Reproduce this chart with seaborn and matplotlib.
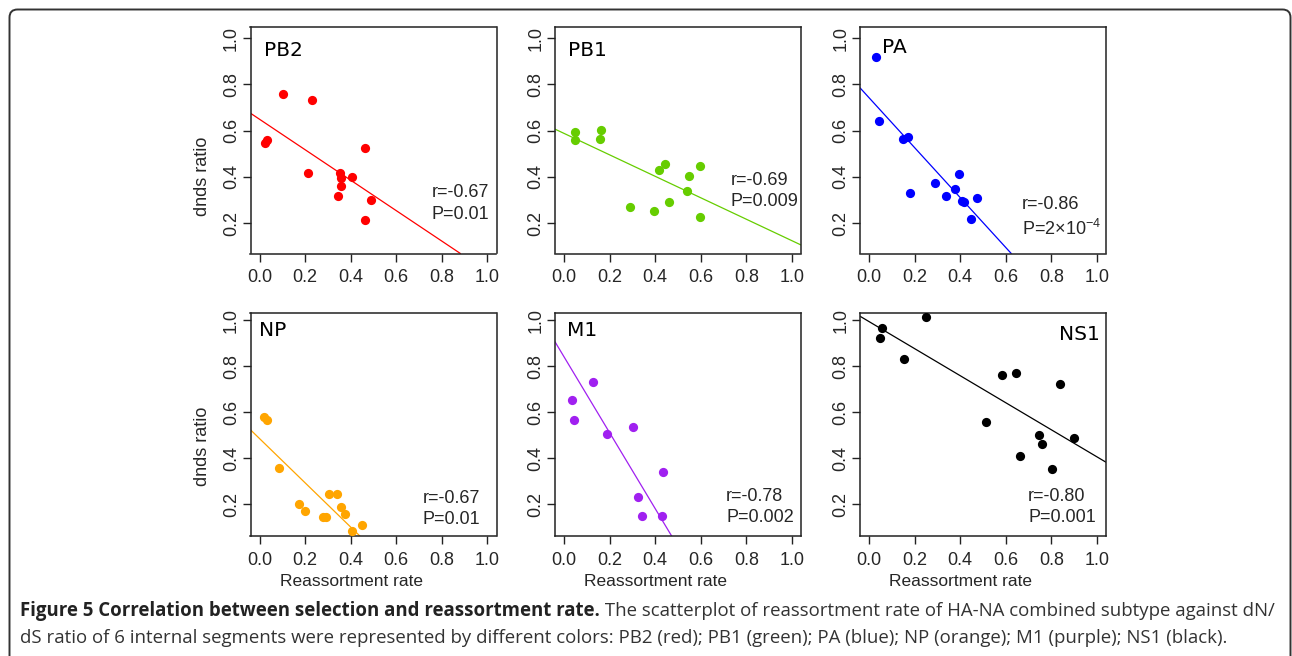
import numpy as np
import pandas as pd
import matplotlib
matplotlib.use("Agg")
import matplotlib.pyplot as plt
import matplotlib.transforms as mtransforms
from matplotlib.patches import FancyBboxPatch
import seaborn as sns

# ---------------- data ----------------
segments = ["PB2", "PB1", "PA", "NP", "M1", "NS1"]
seg_colors = ["#FF0000", "#66CD00", "#0000FF", "#FFA500", "#A020F0", "#000000"]

pb2_x = [0.025, 0.034, 0.104, 0.229, 0.214, 0.352, 0.357, 0.404, 0.358, 0.345, 0.461, 0.488, 0.463]
pb2_y = [0.546, 0.561, 0.757, 0.734, 0.418, 0.418, 0.396, 0.399, 0.360, 0.316, 0.527, 0.302, 0.212]

pb1_x = [0.048, 0.048, 0.157, 0.164, 0.289, 0.396, 0.416, 0.443, 0.462, 0.541, 0.547, 0.598, 0.598]
pb1_y = [0.593, 0.559, 0.564, 0.603, 0.271, 0.251, 0.430, 0.455, 0.291, 0.339, 0.404, 0.449, 0.226]

pa_x = [0.032, 0.044, 0.147, 0.169, 0.179, 0.291, 0.337, 0.376, 0.396, 0.406, 0.418, 0.474, 0.447]
pa_y = [0.917, 0.642, 0.565, 0.572, 0.329, 0.372, 0.316, 0.348, 0.412, 0.296, 0.290, 0.309, 0.220]

np_x = [0.019, 0.033, 0.083, 0.175, 0.201, 0.278, 0.291, 0.305, 0.339, 0.358, 0.376, 0.404, 0.450]
np_y = [0.578, 0.564, 0.359, 0.203, 0.169, 0.143, 0.143, 0.244, 0.244, 0.188, 0.158, 0.082, 0.111]

m1_x = [0.036, 0.042, 0.128, 0.190, 0.301, 0.326, 0.340, 0.435, 0.429]
m1_y = [0.651, 0.568, 0.733, 0.506, 0.536, 0.230, 0.151, 0.338, 0.151]

ns1_x = [0.047, 0.056, 0.154, 0.251, 0.511, 0.585, 0.643, 0.662, 0.746, 0.758, 0.805, 0.839, 0.898]
ns1_y = [0.923, 0.967, 0.833, 1.013, 0.558, 0.761, 0.769, 0.409, 0.500, 0.460, 0.351, 0.724, 0.488]

# fitted regression lines as drawn in the figure (intercept, slope)
fit_intercept = [0.649, 0.588, 0.742, 0.485, 0.840, 0.9935]
fit_slope = [-0.658, -0.4636, -1.0785, -0.961, -1.648, -0.5874]

r_labels = ["r=-0.67", "r=-0.69", "r=-0.86", "r=-0.67", "r=-0.78", "r=-0.80"]
p_labels = ["P=0.01", "P=0.009", r"P=2$\times$10$^{-4}$", "P=0.01", "P=0.002", "P=0.001"]

x_ticks = [0.0, 0.2, 0.4, 0.6, 0.8, 1.0]
y_ticks = [0.2, 0.4, 0.6, 0.8, 1.0]

x_label = "Reassortment rate"
y_label = "dnds ratio"

caption_bold = "Figure 5 Correlation between selection and reassortment rate."
caption_rest = (" The scatterplot of reassortment rate of HA-NA combined subtype against dN/")
caption_line2 = ("dS ratio of 6 internal segments were represented by different colors: "
                 "PB2 (red); PB1 (green); PA (blue); NP (orange); M1 (purple); NS1 (black).")

xs_all = [pb2_x, pb1_x, pa_x, np_x, m1_x, ns1_x]
ys_all = [pb2_y, pb1_y, pa_y, np_y, m1_y, ns1_y]

frames = []
for seg, xs, ys in zip(segments, xs_all, ys_all):
    frames.append(pd.DataFrame({"segment": seg, "rate": xs, "dnds": ys}))
df = pd.concat(frames, ignore_index=True)

# ---------------- style ----------------
sns.set_style("ticks")
plt.rcParams["font.family"] = ["Liberation Sans", "DejaVu Sans"]
plt.rcParams["mathtext.fontset"] = "custom"
plt.rcParams["mathtext.rm"] = "Liberation Sans"
plt.rcParams["mathtext.it"] = "Liberation Sans:italic"

W, H = 1292, 656
fig = plt.figure(figsize=(W / 100, H / 100), dpi=100)
fig.patch.set_facecolor("white")

col_left = [250.5, 555.0, 860.0]
ax_w = 246.0
row_top = [27.0, 313.0]
row_h = [226.5, 223.0]
row_ylim = [(0.069, 1.048), (0.062, 1.031)]
ylabel_y = [0.342, 0.404]

label_pos = [(0.055, 0.895, "left"), (0.053, 0.895, "left"), (0.09, 0.91, "left"),
             (0.033, 0.92, "left"), (0.049, 0.92, "left"), (0.975, 0.905, "right")]
rp_pos = [(0.737, 0.269, 0.172), (0.713, 0.322, 0.230), (0.658, 0.216, 0.110),
          (0.699, 0.170, 0.076), (0.696, 0.175, 0.081), (0.683, 0.175, 0.081)]

for i, seg in enumerate(segments):
    r, c = divmod(i, 3)
    left = col_left[c] / W
    bottom = 1 - (row_top[r] + row_h[r]) / H
    ax = fig.add_axes([left, bottom, ax_w / W, row_h[r] / H])
    sub = df[df["segment"] == seg]
    sns.scatterplot(data=sub, x="rate", y="dnds", ax=ax, color=seg_colors[i],
                    s=44, linewidth=0, alpha=1, zorder=3)
    ax.axline((0, fit_intercept[i]), slope=fit_slope[i], color=seg_colors[i],
              lw=0.9, zorder=2)
    ax.set_xlim(-0.04, 1.04)
    ax.set_ylim(*row_ylim[r])
    ax.set_xticks(x_ticks)
    ax.set_xticklabels([f"{v:.1f}" for v in x_ticks], fontsize=13)
    ax.set_yticks(y_ticks)
    ax.set_yticklabels([f"{v:.1f}" for v in y_ticks], fontsize=13, rotation=90, va="center")
    ax.tick_params(axis="both", direction="out", length=5.5, width=1.0, color="#222222")
    ax.tick_params(axis="x", pad=6)
    ax.tick_params(axis="y", pad=2)
    for sp in ax.spines.values():
        sp.set_visible(True)
        sp.set_linewidth(1.1)
        sp.set_color("#222222")
    if c == 0:
        ax.set_ylabel(y_label, fontsize=13)
        ax.yaxis.set_label_coords(-0.16, ylabel_y[r])
    else:
        ax.set_ylabel("")
    if r == 1:
        ax.set_xlabel(x_label, fontsize=12.5)
        ax.xaxis.set_label_coords(0.41, -0.172)
    else:
        ax.set_xlabel("")
    lx, ly, lha = label_pos[i]
    ax.text(lx, ly, seg, transform=ax.transAxes, ha=lha, va="center",
            fontsize=14.5, family=["DejaVu Sans"], color="black")
    tx, ry, py = rp_pos[i]
    ax.text(tx, ry, r_labels[i], transform=ax.transAxes, ha="left", va="center", fontsize=13)
    ax.text(tx, py, p_labels[i], transform=ax.transAxes, ha="left", va="center", fontsize=13)

# ---------------- frame and caption ----------------
frame = FancyBboxPatch((9.5, -30), 1281, 656 - 9.5 + 30,
                       boxstyle="round,pad=0,rounding_size=8",
                       transform=mtransforms.IdentityTransform(),
                       fill=False, ec="#333333", lw=1.4)
fig.add_artist(frame)

cap_font = ["Open Sans", "DejaVu Sans"]
cap_size = 13.4
t1 = fig.text(20 / W, 1 - 611 / H, caption_bold, ha="left", va="center",
              fontsize=cap_size, fontweight="bold", family=cap_font, color="#222222")
fig.canvas.draw()
bb = t1.get_window_extent(fig.canvas.get_renderer())
fig.text(bb.x1 / W, 1 - 611 / H, caption_rest, ha="left", va="center",
         fontsize=cap_size, family=cap_font, color="#333333")
fig.text(20 / W, 1 - 638 / H, caption_line2, ha="left", va="center",
         fontsize=cap_size, family=cap_font, color="#333333")

fig.savefig("out.png", dpi=100, facecolor="white")
